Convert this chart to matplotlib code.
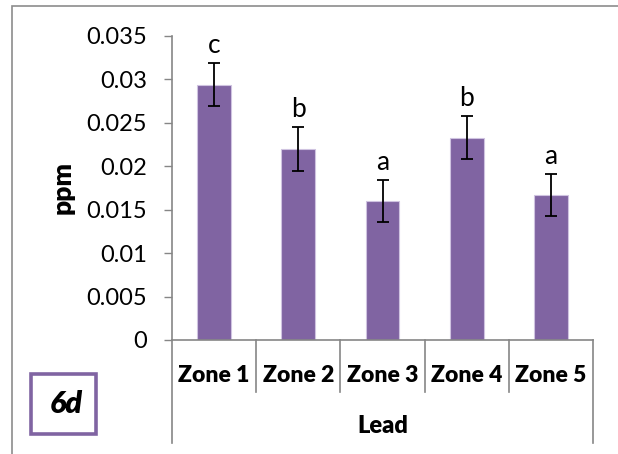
import matplotlib
matplotlib.use("Agg")
import matplotlib.pyplot as plt
from matplotlib.patches import Rectangle
from matplotlib.transforms import blended_transform_factory
import numpy as np

plt.rcParams['font.family'] = ['Lato', 'DejaVu Sans']

zones = ["Zone 1", "Zone 2", "Zone 3", "Zone 4", "Zone 5"]
values = [0.0294, 0.0220, 0.0160, 0.0233, 0.0167]
errors = [0.0025, 0.0025, 0.0024, 0.0025, 0.0024]
letters = ["c", "b", "a", "b", "a"]
yticks = [0, 0.005, 0.01, 0.015, 0.02, 0.025, 0.03, 0.035]
ytick_labels = ["0", "0.005", "0.01", "0.015", "0.02", "0.025", "0.03", "0.035"]
group_label = "Lead"
panel_label = "6d"

PURPLE = "#8064A2"
GRAY = "#868686"

W, H = 618, 454
fig = plt.figure(figsize=(W / 100, H / 100), dpi=100)

# axes placed in pixel terms
left, right, bottom, top = 172, 593, 340, 36
ax = fig.add_axes([left / W, 1 - bottom / H, (right - left) / W, (bottom - top) / H])

x = np.arange(len(zones))
ax.bar(x, values, width=0.4, color=PURPLE, edgecolor="#CFC3E0", linewidth=0.8, zorder=2)
ax.errorbar(x, values, yerr=errors, fmt="none", ecolor="black",
            elinewidth=1.3, capsize=4.5, capthick=1.3, zorder=3)

for xi, v, e, lab in zip(x, values, errors, letters):
    ax.annotate(lab, (xi, v + e), xytext=(0, 7), textcoords="offset points",
                ha="center", va="baseline", fontsize=19)

ax.set_xlim(-0.5, len(zones) - 0.5)
ax.set_ylim(0, 0.035)
ax.set_yticks(yticks)
ax.set_yticklabels(ytick_labels)
ax.tick_params(axis="y", direction="out", length=6, width=1, color=GRAY,
               labelsize=17, pad=12)
ax.set_xticks([])

for s in ["top", "right"]:
    ax.spines[s].set_visible(False)
for s in ["left", "bottom"]:
    ax.spines[s].set_color(GRAY)
    ax.spines[s].set_linewidth(1.2)

ax.set_ylabel("ppm", fontsize=19, fontweight="heavy")
ax.yaxis.set_label_coords(-0.232, 0.5)

# multi-level category axis
trans = blended_transform_factory(ax.transData, ax.transAxes)
ah = bottom - top
for i in range(len(zones) + 1):
    xb = i - 0.5
    y_end = -(443 - bottom) / ah if i in (0, len(zones)) else -(392 - bottom) / ah
    ax.plot([xb, xb], [0, y_end], color=GRAY, lw=1.2, transform=trans, clip_on=False)

for xi, z in zip(x, zones):
    ax.text(xi, -(375 - bottom) / ah, z, transform=trans, ha="center", va="center",
            fontsize=16.5, fontweight="heavy")
ax.text((len(zones) - 1) / 2, -(426 - bottom) / ah, group_label, transform=trans,
        ha="center", va="center", fontsize=17, fontweight="heavy")

# outer chart border (left and top edges visible)
fig.patches.append(Rectangle((12 / W, -0.5), 2, 1.5 - 6 / H, transform=fig.transFigure,
                             fill=False, edgecolor="#8C8C8C", lw=1.2))

# panel label box
bx0, by0, bx1, by1 = 31, 374, 96, 434
fig.patches.append(Rectangle((bx0 / W, 1 - by1 / H), (bx1 - bx0) / W, (by1 - by0) / H,
                             transform=fig.transFigure, fill=False,
                             edgecolor=PURPLE, lw=2.6))
fig.text((bx0 + bx1) / 2 / W + 3 / W, 1 - 404 / H, panel_label, ha="center", va="center",
         fontsize=22, fontweight="heavy", fontstyle="italic")

fig.savefig("out.png", dpi=100)
